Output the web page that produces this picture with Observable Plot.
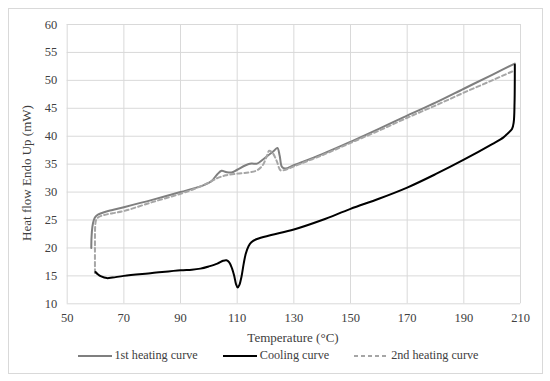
<!DOCTYPE html>
<html>
<head>
<meta charset="utf-8">
<script src="https://cdn.jsdelivr.net/npm/d3@7"></script>
<script src="https://cdn.jsdelivr.net/npm/@observablehq/plot@0.6"></script>
<style>
  html, body { margin: 0; padding: 0; background: #fff; }
  body { width: 550px; height: 381px; position: relative; overflow: hidden; font-family: "Liberation Serif", "Times New Roman", serif; }
  #frame { position: absolute; left: 8px; top: 8px; width: 535px; height: 366px; border: 1px solid #d9d9d9; box-sizing: border-box; }
  #chart { position: absolute; left: 0; top: 0; }
  #chart svg, #chart svg text { font-family: "Liberation Serif", "Times New Roman", serif !important; }
  #chart svg text { font-size: 12.5px; fill: #404040; }
  .title { position: absolute; font-size: 13px; color: #404040; white-space: nowrap; }
  #ytitle { left: 27px; top: 173px; transform: translate(-50%, -50%) rotate(-90deg); }
  #xtitle { left: 293px; top: 338px; transform: translate(-50%, -50%); }
  #legend { position: absolute; left: 3px; width: 550px; top: 348px; display: flex; justify-content: center; font-size: 12.2px; color: #404040; }
  .item { display: flex; align-items: center; margin: 0 12.5px; }
  .item svg { margin-right: 3px; }
</style>
</head>
<body>
<div id="frame"></div>
<div id="chart"></div>
<div class="title" id="ytitle">Heat flow Endo Up (mW)</div>
<div class="title" id="xtitle">Temperature (°C)</div>
<div id="legend"></div>
<script>
const seriesNames = ["1st heating curve", "Cooling curve", "2nd heating curve"];

const heat1T = [58.5, 58.6, 58.9, 59.4, 60.0, 61.0, 63, 66, 70, 80, 90, 98, 101, 103, 104.5, 106, 108, 110, 113, 115, 117, 119, 121, 123, 124.2, 125, 125.8, 127, 130, 140, 150, 160, 170, 180, 190, 200, 208];
const heat1V = [20.0, 22.0, 23.8, 25.0, 25.6, 26.0, 26.4, 26.8, 27.3, 28.6, 30.0, 31.2, 32.0, 33.2, 33.8, 33.6, 33.5, 34.0, 34.8, 35.1, 35.1, 35.8, 36.6, 37.4, 37.9, 36.5, 34.5, 34.2, 34.8, 36.8, 39.0, 41.3, 43.7, 46.0, 48.5, 51.0, 53.0];

const coolT = [208, 207.9, 207.6, 207.0, 205.5, 204, 200, 190, 180, 170, 160, 150, 140, 130, 122, 117, 115, 114, 113, 112.3, 111.5, 110.8, 110.2, 109.6, 109, 108.2, 107.2, 106.2, 105, 103, 100, 97, 94, 90, 80, 70, 66, 64, 62, 60.8, 60];
const coolV = [52.8, 46, 42.5, 41.3, 40.5, 39.8, 38.6, 35.8, 33.2, 30.8, 28.8, 27.0, 25.0, 23.3, 22.3, 21.6, 21.0, 20.3, 18.9, 17.2, 14.8, 13.4, 12.9, 13.5, 14.9, 16.3, 17.4, 17.8, 17.7, 17.2, 16.7, 16.3, 16.1, 16.0, 15.5, 15.0, 14.7, 14.6, 14.9, 15.3, 15.7];

const heat2T = [59.8, 59.8, 59.9, 60.2, 61, 63, 66, 70, 80, 90, 95, 100, 103, 106, 110, 114, 117, 119, 120.5, 121.3, 122.5, 124, 125.3, 127, 130, 140, 150, 160, 170, 180, 190, 200, 208];
const heat2V = [15.5, 20, 24.0, 25.0, 25.5, 25.9, 26.2, 26.6, 28.2, 29.7, 30.6, 31.7, 32.5, 33.0, 33.3, 33.5, 33.9, 34.8, 36.5, 37.4, 37.0, 35.5, 33.9, 34.0, 34.6, 36.6, 38.8, 41.0, 43.3, 45.5, 47.8, 50.0, 51.8];

const xTicks = [50, 70, 90, 110, 130, 150, 170, 190, 210];
const yTicks = [10, 15, 20, 25, 30, 35, 40, 45, 50, 55, 60];

const toRows = (T, V) => T.map((t, i) => ({t, v: V[i]}));
const heat1 = toRows(heat1T, heat1V);
const cool = toRows(coolT, coolV);
const heat2 = toRows(heat2T, heat2V);

const styles = [
  {stroke: "#7f7f7f", strokeWidth: 2, dash: null},
  {stroke: "#000000", strokeWidth: 2, dash: null},
  {stroke: "#a6a6a6", strokeWidth: 2, dash: "4,3"}
];

const plot = Plot.plot({
  width: 550,
  height: 345,
  marginLeft: 66.7,
  marginRight: 30,
  marginTop: 24,
  marginBottom: 41.7,
  style: {background: "transparent"},
  x: {domain: [50, 210], ticks: xTicks, label: null},
  y: {domain: [10, 60], ticks: yTicks, label: null},
  marks: [
    Plot.gridX(xTicks, {stroke: "#d9d9d9", strokeOpacity: 1, strokeWidth: 1}),
    Plot.gridY(yTicks, {stroke: "#d9d9d9", strokeOpacity: 1, strokeWidth: 1}),
    Plot.axisX(xTicks, {tickSize: 0, tickPadding: 9, label: null}),
    Plot.axisY(yTicks, {tickSize: 0, tickPadding: 10, label: null}),
    Plot.line(heat1, {x: "t", y: "v", stroke: styles[0].stroke, strokeWidth: styles[0].strokeWidth, curve: "catmull-rom"}),
    Plot.line(heat2, {x: "t", y: "v", stroke: styles[2].stroke, strokeWidth: styles[2].strokeWidth, strokeDasharray: styles[2].dash, curve: "catmull-rom"}),
    Plot.line(cool, {x: "t", y: "v", stroke: styles[1].stroke, strokeWidth: styles[1].strokeWidth, curve: "catmull-rom"})
  ]
});
document.getElementById("chart").appendChild(plot);

const legend = document.getElementById("legend");
seriesNames.forEach((name, i) => {
  const s = styles[i];
  const item = document.createElement("div");
  item.className = "item";
  item.innerHTML = `<svg width="34" height="10"><line x1="0" y1="5" x2="34" y2="5" stroke="${s.stroke}" stroke-width="${s.strokeWidth}" ${s.dash ? `stroke-dasharray="${s.dash}"` : ""}/></svg><span>${name}</span>`;
  legend.appendChild(item);
});
</script>
</body>
</html>
